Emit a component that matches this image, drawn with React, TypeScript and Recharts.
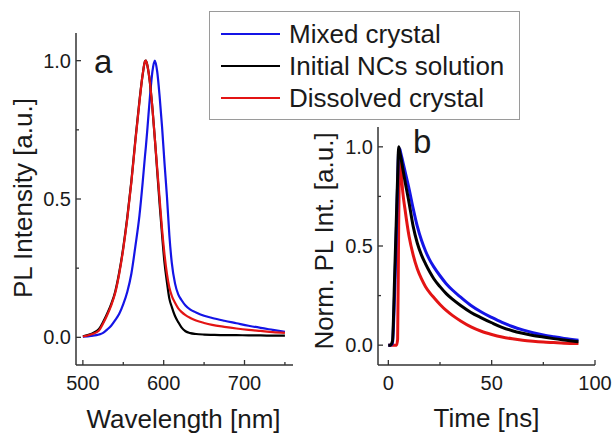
import React from "react"
import { LineChart, Line, XAxis, YAxis } from "recharts"

// PL spectra (panel a)
const wavelength = [500, 510, 520, 525, 530, 535, 540, 545, 550, 555, 560, 565, 570, 574, 577, 578, 580, 583, 586, 589, 592, 595, 598, 601, 604, 607, 610, 614, 618, 622, 627, 633, 640, 650, 660, 675, 690, 705, 720, 735, 750]
const mixedPL = [0.002, 0.005, 0.01, 0.016, 0.028, 0.042, 0.062, 0.085, 0.12, 0.165, 0.23, 0.33, 0.44, 0.56, 0.66, 0.69, 0.76, 0.87, 0.96, 1.0, 0.96, 0.87, 0.76, 0.63, 0.51, 0.37, 0.27, 0.195, 0.155, 0.135, 0.115, 0.1, 0.09, 0.078, 0.07, 0.06, 0.051, 0.042, 0.034, 0.027, 0.02]
const initialPL = [0.004, 0.012, 0.03, 0.055, 0.085, 0.12, 0.165, 0.235, 0.325, 0.435, 0.565, 0.715, 0.855, 0.95, 0.998, 1.0, 0.98, 0.92, 0.83, 0.72, 0.6, 0.48, 0.37, 0.27, 0.2, 0.14, 0.11, 0.077, 0.055, 0.036, 0.022, 0.015, 0.012, 0.01, 0.009, 0.008, 0.008, 0.007, 0.007, 0.006, 0.006]
const dissolvedPL = [0.003, 0.01, 0.025, 0.05, 0.08, 0.115, 0.16, 0.23, 0.32, 0.43, 0.56, 0.71, 0.85, 0.95, 0.998, 1.0, 0.98, 0.92, 0.83, 0.72, 0.61, 0.5, 0.39, 0.3, 0.23, 0.18, 0.15, 0.125, 0.105, 0.092, 0.08, 0.07, 0.061, 0.052, 0.045, 0.038, 0.032, 0.027, 0.023, 0.019, 0.016]

// PL decays (panel b)
const time = [0, 1, 2, 3, 4, 4.5, 5, 5.5, 6, 7, 8, 10, 12, 14, 16, 18, 20, 22, 25, 28, 31, 35, 40, 45, 50, 55, 60, 65, 70, 75, 80, 85, 92]
const mixedDecay = [0, 0, 0.01, 0.25, 0.62, 0.82, 0.98, 0.99, 0.97, 0.925, 0.88, 0.79, 0.69, 0.6, 0.53, 0.475, 0.43, 0.395, 0.35, 0.31, 0.278, 0.242, 0.2, 0.167, 0.14, 0.115, 0.094, 0.077, 0.063, 0.051, 0.042, 0.034, 0.025]
const initialDecay = [0, 0, 0.02, 0.33, 0.68, 0.85, 1.0, 0.975, 0.95, 0.89, 0.83, 0.72, 0.6, 0.515, 0.455, 0.41, 0.37, 0.335, 0.295, 0.26, 0.232, 0.2, 0.165, 0.138, 0.113, 0.09, 0.073, 0.06, 0.049, 0.041, 0.033, 0.026, 0.017]
const dissolvedDecay = [0, 0, 0, 0, 0, 0.03, 0.6, 0.93, 0.9, 0.77, 0.69, 0.55, 0.455, 0.385, 0.335, 0.295, 0.265, 0.24, 0.205, 0.175, 0.15, 0.122, 0.092, 0.07, 0.054, 0.041, 0.032, 0.025, 0.02, 0.016, 0.013, 0.01, 0.008]

// axis ticks (majors get labels, minors just a short mark)
const wlMajor = [500, 600, 700]
const wlMinor = [550, 650, 750]
const tMajor = [0, 50, 100]
const tMinor = [25, 75]
const yMajor = [0, 0.5, 1.0]
const yMinor = [0.25, 0.75]

const legendItems = [
  { name: "Mixed crystal", color: "#1414e6" },
  { name: "Initial NCs solution", color: "#000000" },
  { name: "Dissolved crystal", color: "#e31414" },
]

const FONT = '"Liberation Sans", Arial, sans-serif'
const AXIS = "#333"
const TEXT = "#1a1a1a"

const specData = wavelength.map((nm, i) => ({
  nm,
  mixed: mixedPL[i],
  initial: initialPL[i],
  dissolved: dissolvedPL[i],
}))

const decayData = time.map((t, i) => ({
  t,
  mixed: mixedDecay[i],
  initial: initialDecay[i],
  dissolved: dissolvedDecay[i],
}))

// inward ticks, Origin style
function xTick(majors: number[]) {
  return (props: any) => {
    const { x, y, payload } = props
    const major = majors.includes(payload.value)
    return (
      <g>
        <line x1={x} y1={y} x2={x} y2={y - (major ? 5 : 3)} stroke={AXIS} strokeWidth={1.3} />
        {major && (
          <text x={x} y={y + 25} textAnchor="middle" fontSize={20} fill={TEXT} fontFamily={FONT}>
            {payload.value}
          </text>
        )}
      </g>
    )
  }
}

function yTick(majors: number[]) {
  return (props: any) => {
    const { x, y, payload } = props
    const major = majors.includes(payload.value)
    return (
      <g>
        <line x1={x} y1={y} x2={x + (major ? 5 : 3)} y2={y} stroke={AXIS} strokeWidth={1.3} />
        {major && (
          <text x={x - 5} y={y + 7} textAnchor="end" fontSize={20} fill={TEXT} fontFamily={FONT}>
            {Number(payload.value).toFixed(1)}
          </text>
        )}
      </g>
    )
  }
}

const title: React.CSSProperties = {
  position: "absolute",
  fontSize: 26,
  lineHeight: 1,
  whiteSpace: "nowrap",
  color: TEXT,
  fontFamily: FONT,
}

export default function App() {
  const axisLine = { stroke: AXIS, strokeWidth: 1.5 }
  return (
    <div
      style={{
        position: "absolute",
        left: 0,
        top: 0,
        width: 613,
        height: 434,
        background: "#fff",
        fontFamily: FONT,
        overflow: "hidden",
      }}
    >
      <div style={{ position: "absolute", left: 0, top: 0 }}>
        <LineChart width={300} height={434} data={specData} margin={{ top: 33, right: 7, bottom: 0, left: 0 }}>
          <XAxis
            dataKey="nm"
            type="number"
            domain={[491.5, 760]}
            ticks={[...wlMajor, ...wlMinor]}
            interval={0}
            height={69}
            tickSize={0}
            tickMargin={0}
            tickLine={false}
            axisLine={axisLine}
            tick={xTick(wlMajor)}
            allowDataOverflow
          />
          <YAxis
            type="number"
            domain={[-0.1, 1.1]}
            ticks={[...yMajor, ...yMinor]}
            interval={0}
            width={76}
            tickSize={0}
            tickMargin={0}
            tickLine={false}
            axisLine={axisLine}
            tick={yTick(yMajor)}
            allowDataOverflow
          />
          <Line type="monotone" dataKey="mixed" stroke={legendItems[0].color} strokeWidth={2.2} dot={false} isAnimationActive={false} />
          <Line type="monotone" dataKey="initial" stroke={legendItems[1].color} strokeWidth={2.2} dot={false} isAnimationActive={false} />
          <Line type="monotone" dataKey="dissolved" stroke={legendItems[2].color} strokeWidth={2.2} dot={false} isAnimationActive={false} />
        </LineChart>
      </div>

      <div style={{ position: "absolute", left: 300, top: 0 }}>
        <LineChart width={313} height={434} data={decayData} margin={{ top: 127, right: 18, bottom: 0, left: 0 }}>
          <XAxis
            dataKey="t"
            type="number"
            domain={[-5, 100]}
            ticks={[...tMajor, ...tMinor]}
            interval={0}
            height={69}
            tickSize={0}
            tickMargin={0}
            tickLine={false}
            axisLine={axisLine}
            tick={xTick(tMajor)}
            allowDataOverflow
          />
          <YAxis
            type="number"
            domain={[-0.1, 1.1]}
            ticks={[...yMajor, ...yMinor]}
            interval={0}
            width={78}
            tickSize={0}
            tickMargin={0}
            tickLine={false}
            axisLine={axisLine}
            tick={yTick(yMajor)}
            allowDataOverflow
          />
          <Line type="monotone" dataKey="dissolved" stroke={legendItems[2].color} strokeWidth={3} dot={false} isAnimationActive={false} />
          <Line type="monotone" dataKey="mixed" stroke={legendItems[0].color} strokeWidth={3} dot={false} isAnimationActive={false} />
          <Line type="monotone" dataKey="initial" stroke={legendItems[1].color} strokeWidth={3} dot={false} isAnimationActive={false} />
        </LineChart>
      </div>

      {/* axis titles */}
      <div style={{ ...title, left: 22.5, top: 198, transform: "translate(-50%, -50%) rotate(-90deg)" }}>
        PL Intensity [a.u.]
      </div>
      <div style={{ ...title, left: 183.5, top: 418.5, transform: "translate(-50%, -50%)" }}>
        Wavelength [nm]
      </div>
      <div style={{ ...title, left: 324, top: 241, transform: "translate(-50%, -50%) rotate(-90deg)" }}>
        Norm. PL Int. [a.u.]
      </div>
      <div style={{ ...title, left: 486.5, top: 418, transform: "translate(-50%, -50%)" }}>
        Time [ns]
      </div>

      {/* panel letters */}
      <div style={{ ...title, fontSize: 33, left: 94, top: 45 }}>a</div>
      <div style={{ ...title, fontSize: 33, left: 413, top: 125 }}>b</div>

      {/* legend */}
      <div
        style={{
          position: "absolute",
          left: 209,
          top: 11,
          width: 311,
          height: 109,
          border: "1px solid #9a9a9a",
          background: "#fff",
          boxSizing: "border-box",
          paddingTop: 6,
        }}
      >
        {legendItems.map((it) => (
          <div key={it.name} style={{ display: "flex", alignItems: "center", height: 32 }}>
            <div style={{ marginLeft: 11, width: 59, height: 2.6, background: it.color }} />
            <span style={{ marginLeft: 9, fontSize: 26, lineHeight: "32px", color: TEXT, whiteSpace: "nowrap" }}>
              {it.name}
            </span>
          </div>
        ))}
      </div>
    </div>
  )
}
